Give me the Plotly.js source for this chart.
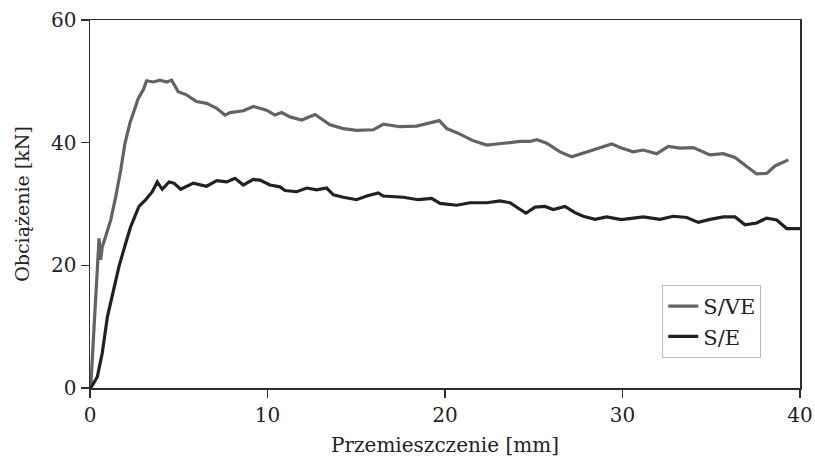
<!DOCTYPE html>
<html>
<head>
<meta charset="utf-8">
<script src="https://cdn.plot.ly/plotly-3.0.1.min.js"></script>
<style>html,body{margin:0;padding:0;background:#fff;}#chart{width:815px;height:464px;}</style>
</head>
<body>
<div id="chart"></div>
<script>
const seriesNames = ["S/VE", "S/E"];

const sveX = [0, 0.04, 0.23, 0.38, 0.51, 0.6, 0.69, 0.88, 1.17, 1.45, 1.73, 1.97, 2.25, 2.72, 3.0, 3.19, 3.57, 3.94, 4.32, 4.6, 4.97, 5.44, 6.0, 6.57, 7.14, 7.6, 7.89, 8.64, 9.2, 9.95, 10.42, 10.8, 11.27, 11.93, 12.68, 13.52, 14.27, 15.02, 15.96, 16.52, 17.46, 18.4, 19.15, 19.68, 20.1, 20.85, 21.6, 22.35, 23.29, 24.23, 24.79, 25.17, 25.73, 26.48, 27.14, 27.79, 28.55, 29.39, 29.86, 30.6, 31.17, 31.93, 32.58, 33.24, 33.99, 34.93, 35.68, 36.34, 37.0, 37.56, 38.12, 38.59, 39.34];
const sveY = [0, 0, 10, 19.2, 24.4, 20.9, 23.0, 24.7, 27.4, 31.2, 35.5, 39.9, 43.2, 47.2, 48.6, 50.1, 49.9, 50.2, 49.9, 50.2, 48.3, 47.8, 46.7, 46.4, 45.6, 44.5, 44.9, 45.2, 45.9, 45.3, 44.5, 44.9, 44.2, 43.7, 44.6, 42.9, 42.3, 42.0, 42.1, 43.0, 42.6, 42.7, 43.3, 43.6, 42.3, 41.4, 40.3, 39.6, 39.9, 40.2, 40.2, 40.5, 39.9, 38.5, 37.7, 38.3, 39.1, 39.8, 39.2, 38.5, 38.8, 38.2, 39.4, 39.1, 39.2, 38.0, 38.2, 37.6, 36.1, 34.9, 35.0, 36.2, 37.2];

const seX = [0, 0.04, 0.41, 0.69, 0.98, 1.26, 1.63, 2.01, 2.29, 2.76, 3.14, 3.51, 3.79, 4.07, 4.45, 4.73, 5.11, 5.82, 6.57, 7.14, 7.7, 8.17, 8.64, 9.2, 9.58, 10.14, 10.7, 10.99, 11.64, 12.21, 12.77, 13.33, 13.71, 14.27, 15.02, 15.59, 16.24, 16.52, 17.65, 18.5, 19.25, 19.72, 20.66, 21.41, 22.35, 23.1, 23.66, 24.13, 24.56, 25.07, 25.63, 26.1, 26.76, 27.32, 27.79, 28.45, 29.11, 29.86, 30.05, 31.17, 32.11, 32.86, 33.62, 34.27, 34.93, 35.68, 36.34, 36.9, 37.56, 38.12, 38.69, 39.25, 40.0];
const seY = [0, 0, 1.8, 5.7, 11.6, 15.4, 19.8, 23.6, 26.3, 29.6, 30.7, 32.0, 33.6, 32.4, 33.6, 33.4, 32.4, 33.4, 32.9, 33.8, 33.6, 34.2, 33.1, 34.0, 33.9, 33.1, 32.8, 32.2, 32.0, 32.6, 32.3, 32.6, 31.5, 31.1, 30.7, 31.3, 31.8, 31.3, 31.1, 30.7, 30.9, 30.1, 29.8, 30.2, 30.2, 30.5, 30.2, 29.3, 28.5, 29.5, 29.6, 29.1, 29.6, 28.6, 28.0, 27.5, 27.9, 27.5, 27.5, 27.9, 27.5, 28.0, 27.8, 27.0, 27.5, 27.9, 27.9, 26.6, 26.9, 27.7, 27.4, 26.0, 26.0];

const xTicks = [0, 10, 20, 30, 40];
const yTicks = [0, 20, 40, 60];

const font = "DejaVu Serif, serif";

const traces = [
  {x: sveX, y: sveY, name: seriesNames[0], mode: "lines", line: {color: "#5f6563", width: 3.2}},
  {x: seX, y: seY, name: seriesNames[1], mode: "lines", line: {color: "#1c2422", width: 3.2}}
];

const axisCommon = {
  showgrid: false, zeroline: false, showline: true, linecolor: "#2a2f2e", linewidth: 1.5,
  mirror: true, ticks: "outside", ticklen: 8, tickwidth: 1.2, tickcolor: "#2a2f2e",
  tickfont: {family: font, size: 20, color: "#222"}
};

const layout = {
  width: 815, height: 464,
  margin: {l: 90, r: 15, t: 20, b: 76},
  paper_bgcolor: "#fff", plot_bgcolor: "#fff",
  showlegend: true,
  legend: {x: 0.806, y: 0.28, xanchor: "left", yanchor: "top", bordercolor: "#bbbbbb", borderwidth: 1,
           bgcolor: "#fff", font: {family: font, size: 21, color: "#222"}, tracegroupgap: 0},
  xaxis: Object.assign({}, axisCommon, {range: [0, 40], tickvals: xTicks,
    title: {text: "Przemieszczenie [mm]", font: {family: font, size: 20, color: "#222"}, standoff: 12}}),
  yaxis: Object.assign({}, axisCommon, {range: [0, 60], tickvals: yTicks,
    title: {text: "Obciążenie [kN]", font: {family: font, size: 19, color: "#222"}, standoff: 16}})
};

Plotly.newPlot("chart", traces, layout, {displayModeBar: false, staticPlot: true});
</script>
</body>
</html>
